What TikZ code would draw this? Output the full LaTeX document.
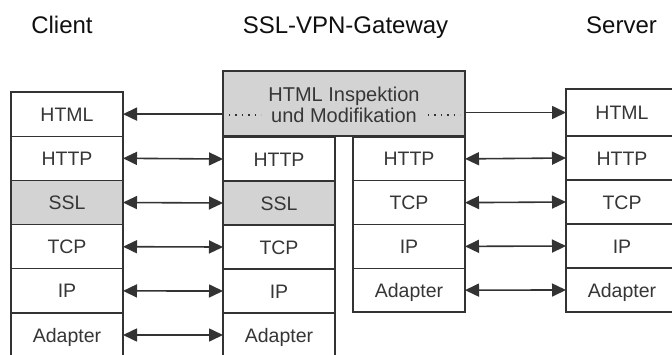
\documentclass[tikz,border=0pt]{standalone}
\usepackage{fontspec}
\setmainfont{Liberation Sans}
\usetikzlibrary{arrows.meta}
\definecolor{edge}{HTML}{333333}
\definecolor{shade}{HTML}{D3D3D3}
\definecolor{label}{HTML}{363636}
\definecolor{heading}{HTML}{101010}
\begin{document}
\begin{tikzpicture}[x=1pt,y=-1pt,
  cell/.style={draw=edge, line width=1.3pt, fill=white, anchor=north west,
    inner sep=0pt, outer sep=0pt, minimum width=112pt, minimum height=44pt,
    text=label, font=\fontsize{19.5}{22}\selectfont, text height=14pt, text depth=0pt},
  graycell/.style={cell, fill=shade},
  title/.style={anchor=base, text=heading, font=\fontsize{24}{26}\selectfont},
  tip/.tip={Triangle[length=14pt,width=13pt]},
  both/.style={draw=edge, line width=1.6pt, tip-tip},
  single/.style={draw=edge, line width=1.6pt, -tip},
  dots/.style={draw=edge, line width=1.3pt, dash pattern=on 1.4pt off 5pt}
]
\useasboundingbox (0,0) rectangle (672,354);
\clip (0,0) rectangle (672,354);
\fill[white] (0,0) rectangle (672,354);

% headings
\node[title] (tclient) at (62,33) {Client};
\node[title] (tgate) at (345.5,33) {SSL-VPN-Gateway};
\node[title] (tserver) at (621.5,33) {Server};

% client stack
\node[cell, minimum height=44.2pt] (c-html) at (11,92) {HTML};
\node[cell, minimum height=44.2pt] (c-http) at (11,136.2) {HTTP};
\node[graycell, minimum height=44.2pt] (c-ssl) at (11,180.4) {SSL};
\node[cell, minimum height=44.2pt] (c-tcp) at (11,224.6) {TCP};
\node[cell, minimum height=44.2pt] (c-ip) at (11,268.8) {IP};
\node[cell] (c-ad) at (11,313) {Adapter};

% gateway: inspection box
\node[draw=edge, line width=1.3pt, fill=shade, anchor=north west, inner sep=0pt,
  outer sep=0pt, minimum width=242pt, minimum height=65pt] (gw) at (223,71) {};
\node[anchor=north, inner sep=0pt, align=center, text=label,
  font=\fontsize{20}{21}\selectfont] (gwtext) at (344,86.5)
  {HTML Inspektion\\und Modifikation};

% gateway: client-side stack
\node[cell] (gl-http) at (223,137) {HTTP};
\node[graycell] (gl-ssl) at (223,181) {SSL};
\node[cell] (gl-tcp) at (223,225) {TCP};
\node[cell] (gl-ip) at (223,269) {IP};
\node[cell] (gl-ad) at (223,313) {Adapter};

% gateway: server-side stack
\node[cell, minimum height=43.75pt] (gr-http) at (353,137) {HTTP};
\node[cell, minimum height=43.75pt] (gr-tcp) at (353,180.75) {TCP};
\node[cell, minimum height=43.75pt] (gr-ip) at (353,224.5) {IP};
\node[cell, minimum height=43.75pt] (gr-ad) at (353,268.25) {Adapter};

% server stack
\node[cell, minimum height=47pt] (s-html) at (566,89) {HTML};
\node[cell] (s-http) at (566,136) {HTTP};
\node[cell] (s-tcp) at (566,180) {TCP};
\node[cell] (s-ip) at (566,224) {IP};
\node[cell] (s-ad) at (566,268) {Adapter};

% HTML links through the inspection box
\draw[single] (gw.west |- c-html.east) -- (c-html.east);
\draw[single] (gw.east |- s-html.west) -- (s-html.west);
\coordinate (dl1) at (229,115);
\coordinate (dl2) at (261,115);
\coordinate (dr1) at (428,115);
\coordinate (dr2) at (460,115);
\draw[dots] (dl1) -- (dl2);
\draw[dots] (dr1) -- (dr2);

% client <-> gateway
\draw[both] (c-http.east) -- (gl-http.west);
\draw[both] (c-ssl.east) -- (gl-ssl.west);
\draw[both] (c-tcp.east) -- (gl-tcp.west);
\draw[both] (c-ip.east) -- (gl-ip.west);
\draw[both] (c-ad.east) -- (gl-ad.west);

% gateway <-> server
\draw[both] (gr-http.east) -- (s-http.west);
\draw[both] (gr-tcp.east) -- (s-tcp.west);
\draw[both] (gr-ip.east) -- (s-ip.west);
\draw[both] (gr-ad.east) -- (s-ad.west);
\end{tikzpicture}
\end{document}
